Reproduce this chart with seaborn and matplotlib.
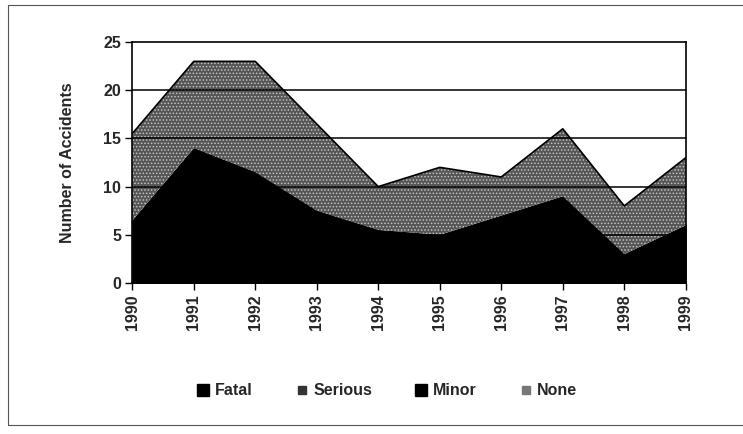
import numpy as np
import pandas as pd
import seaborn as sns
from matplotlib import pyplot as plt
from matplotlib.patches import Rectangle
from matplotlib.lines import Line2D

# values (stacked, bottom to top)
years   = [1990, 1991, 1992, 1993, 1994, 1995, 1996, 1997, 1998, 1999]
fatal   = [1.0, 2.0, 1.0, 1.0, 0.0, 1.0, 1.0, 1.0, 0.0, 1.0]
serious = [1.0, 3.0, 2.0, 1.0, 1.0, 1.0, 1.0, 2.0, 1.0, 1.0]
minor   = [4.5, 9.0, 8.5, 5.5, 4.5, 3.0, 5.0, 6.0, 2.0, 4.0]
none    = [9.0, 9.0, 11.5, 9.0, 4.5, 7.0, 4.0, 7.0, 5.0, 7.0]

series_names  = ['Fatal', 'Serious', 'Minor', 'None']
series_colors = ['#000000', '#000000', '#000000', '#555555']

sns.set_style('white')
plt.rcParams['font.family'] = ['Liberation Sans', 'DejaVu Sans']
plt.rcParams['hatch.linewidth'] = 0.7

df = pd.DataFrame({'Year': years, 'Fatal': fatal, 'Serious': serious,
                   'Minor': minor, 'None': none})

fig = plt.figure(figsize=(7.43, 4.34), dpi=100)
ax  = fig.add_axes([0.178, 0.348, 0.745, 0.555])

x = np.arange(len(years))
polys = ax.stackplot(x, [df[c] for c in series_names], colors=series_colors,
                     linewidth=0, zorder=1)
# speckled look of the scanned "None" fill
polys[3].set_hatch('.....')
polys[3].set_edgecolor('#c4c4c4')
polys[3].set_linewidth(0)
for p in polys[:3]:
    p.set_edgecolor('#000000')
    p.set_linewidth(0.8)

# outline of the top of the stack
cum = df[series_names].cumsum(axis=1)
top = pd.DataFrame({'x': x, 'y': cum['None']})
sns.lineplot(data=top, x='x', y='y', color='black', lw=1.2, ax=ax, zorder=3)

ax.set_xlim(0, len(years) - 1)
ax.set_ylim(0, 25)
ax.set_yticks([0, 5, 10, 15, 20, 25])
ax.set_xticks(x)
ax.set_xticklabels([str(y) for y in years], rotation=90)
for t in ax.get_xticklabels() + ax.get_yticklabels():
    t.set_fontsize(11.5)
    t.set_fontweight('bold')

for v in [5, 10, 15, 20]:
    ax.axhline(v, color='black', lw=1.1, zorder=2)

ax.tick_params(axis='both', direction='out', length=5, width=1, color='black',
               bottom=True, left=True, pad=3)
for s in ax.spines.values():
    s.set_color('black')
    s.set_linewidth(1.2)

ax.set_xlabel('')
ax.set_ylabel('Number of Accidents', fontsize=11.5, fontweight='bold', labelpad=20)

handles = [Line2D([0], [0], marker='s', color='none', markerfacecolor=c,
                  markeredgecolor=c, markersize=ms)
           for c, ms in zip(['#000000', '#333333', '#000000', '#777777'],
                            [9, 6, 9, 6])]
fig.legend(handles, series_names, loc='center', bbox_to_anchor=(0.52, 0.10),
           ncol=4, frameon=False, prop={'size': 11.5, 'weight': 'bold'},
           handletextpad=0.2, columnspacing=2.6, handlelength=1.0)

# outer chart border from the scan
fig.add_artist(Rectangle((0.011, 1 - 425 / 434), 1.2, (420 / 434),
                         transform=fig.transFigure, fill=False,
                         edgecolor='#555555', lw=0.8))

plt.savefig('out.png', dpi=100)
